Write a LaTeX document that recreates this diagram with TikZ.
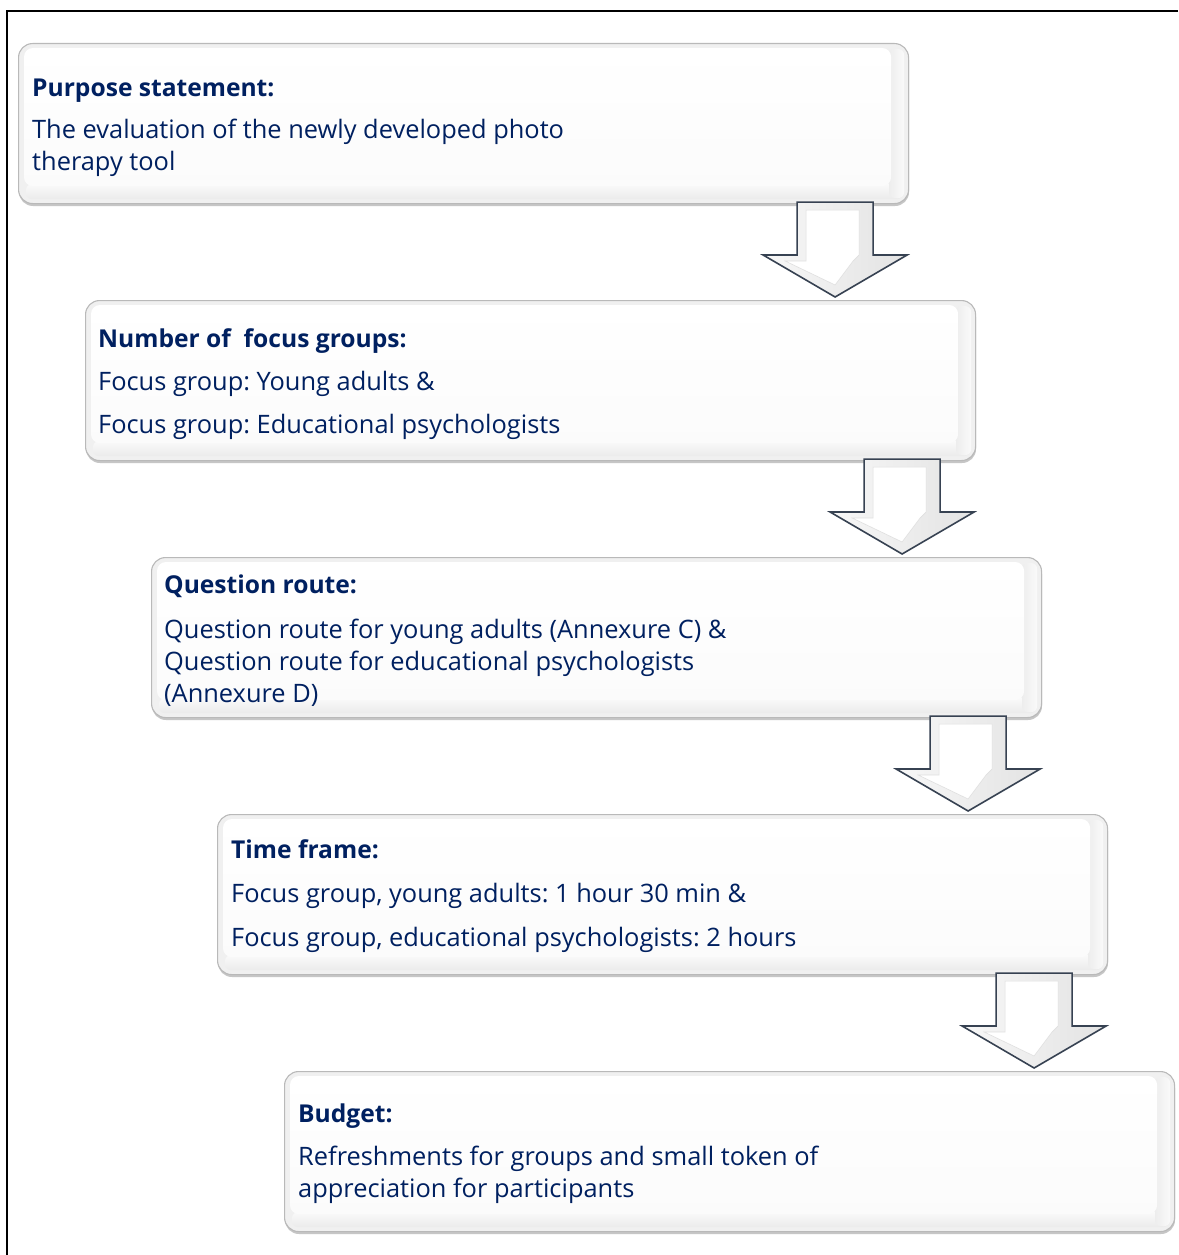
\documentclass[tikz,border=0pt]{standalone}
\usepackage{fontspec}
\setmainfont{Open Sans}
\usetikzlibrary{calc}
\definecolor{navy}{RGB}{0,32,96}
\definecolor{arrowline}{RGB}{55,66,82}
\frenchspacing

\tikzset{
  panel/.style={draw=gray!55, line width=1.1pt, rounded corners=14pt, fill=gray!12,
    minimum width=890pt, minimum height=160pt, anchor=north west, inner sep=0pt},
  heading/.style={anchor=base west, text=navy, inner sep=0pt,
    font=\fontsize{24.6}{29}\selectfont\bfseries},
  bodytext/.style={anchor=base west, text=navy, inner sep=0pt,
    font=\fontsize{25.4}{30}\selectfont},
  arrowbody/.style={draw=arrowline, line width=1.6pt, line join=miter,
    left color=gray!6, right color=gray!22},
  arrowface/.style={fill=white, draw=gray!25, line width=0.6pt},
}

% bevelled panel: shadow, rim, white face and soft right/bottom bevels
\newcommand\panelbox[2]{%
  \fill[gray!45, rounded corners=14pt] ($(#2)+(1,3)$) rectangle ++(890,160);
  \node[panel] (#1) at (#2) {};
  \shade[rounded corners=6pt, top color=gray!4, bottom color=gray!16]
    ($(#1.south west)+(8,-20)$) rectangle ($(#1.south east)+(-6,-5)$);
  \shade[rounded corners=6pt, left color=gray!14, right color=gray!4]
    ($(#1.north east)+(-20,6)$) rectangle ($(#1.south east)+(-5,-6)$);
  \shade[rounded corners=9pt, top color=white, bottom color=gray!3]
    ($(#1.north west)+(6,5)$) rectangle ($(#1.south east)+(-18,-18)$);
}

% block arrow from the bottom of one panel to the top of the next
\newcommand\flowarrow[3]{%
  \path let \p1=($(#1.south east)+(-74,-2)$), \p2=(#2.north) in
    coordinate (#3-top) at (\x1,\y1)
    coordinate (#3-tip) at (\x1,\y2+3pt);
  \draw[arrowbody]
    ($(#3-top)+(-38,0)$) -- ($(#3-top)+(38,0)$) -- ($(#3-tip)+(38,-42)$)
    -- ($(#3-tip)+(72,-42)$) -- (#3-tip) -- ($(#3-tip)+(-72,-42)$)
    -- ($(#3-tip)+(-38,-42)$) -- cycle;
  \fill[arrowface]
    ($(#3-top)+(-29,8)$) -- ($(#3-top)+(24,8)$) -- ($(#3-tip)+(24,-42)$)
    -- ($(#3-tip)+(18,-36)$) -- ($(#3-tip)+(0,-12)$) -- ($(#3-tip)+(-50,-36)$)
    -- ($(#3-tip)+(-29,-36)$) -- cycle;
}

\begin{document}
\begin{tikzpicture}[x=1pt,y=-1pt]
  \useasboundingbox (0,0) rectangle (1178,1255);
  \fill[white] (0,0) rectangle (1178,1255);

  % outer frame
  \draw[line width=2.6pt] (1178,11) -- (7,11) -- (7,1255);

  \panelbox{box1}{18,43}
  \panelbox{box2}{85,300}
  \panelbox{box3}{151,557}
  \panelbox{box4}{217,814}
  \panelbox{box5}{284,1071}

  \flowarrow{box1}{box2}{arrA}
  \flowarrow{box2}{box3}{arrB}
  \flowarrow{box3}{box4}{arrC}
  \flowarrow{box4}{box5}{arrD}

  % panel texts
  \node[heading]  (box1-h)  at ($(box1.north west)+(14,53)$)  {Purpose statement:};
  \node[bodytext] (box1-a)  at ($(box1.north west)+(14,95)$)  {The evaluation of the newly developed photo};
  \node[bodytext] (box1-b)  at ($(box1.north west)+(14,127)$) {therapy tool};

  \node[heading]  (box2-h)  at ($(box2.north west)+(13,47)$)  {Number of\ \ focus groups:};
  \node[bodytext] (box2-a)  at ($(box2.north west)+(13,90)$)  {Focus group: Young adults \&};
  \node[bodytext] (box2-b)  at ($(box2.north west)+(13,133)$) {Focus group: Educational psychologists};

  \node[heading]  (box3-h)  at ($(box3.north west)+(13,36)$)  {Question route:};
  \node[bodytext] (box3-a)  at ($(box3.north west)+(13,81)$)  {Question route for young adults (Annexure C) \&};
  \node[bodytext] (box3-b)  at ($(box3.north west)+(13,113)$) {Question route for educational psychologists};
  \node[bodytext] (box3-c)  at ($(box3.north west)+(13,145)$) {(Annexure D)};

  \node[heading]  (box4-h)  at ($(box4.north west)+(14,44)$)  {Time frame:};
  \node[bodytext] (box4-a)  at ($(box4.north west)+(14,88)$)  {Focus group, young adults: 1 hour 30 min \&};
  \node[bodytext] (box4-b)  at ($(box4.north west)+(14,132)$) {Focus group, educational psychologists: 2 hours};

  \node[heading]  (box5-h)  at ($(box5.north west)+(14,51)$)  {Budget:};
  \node[bodytext] (box5-a)  at ($(box5.north west)+(14,94)$)  {Refreshments for groups and small token of};
  \node[bodytext] (box5-b)  at ($(box5.north west)+(14,126)$) {appreciation for participants};
\end{tikzpicture}
\end{document}
